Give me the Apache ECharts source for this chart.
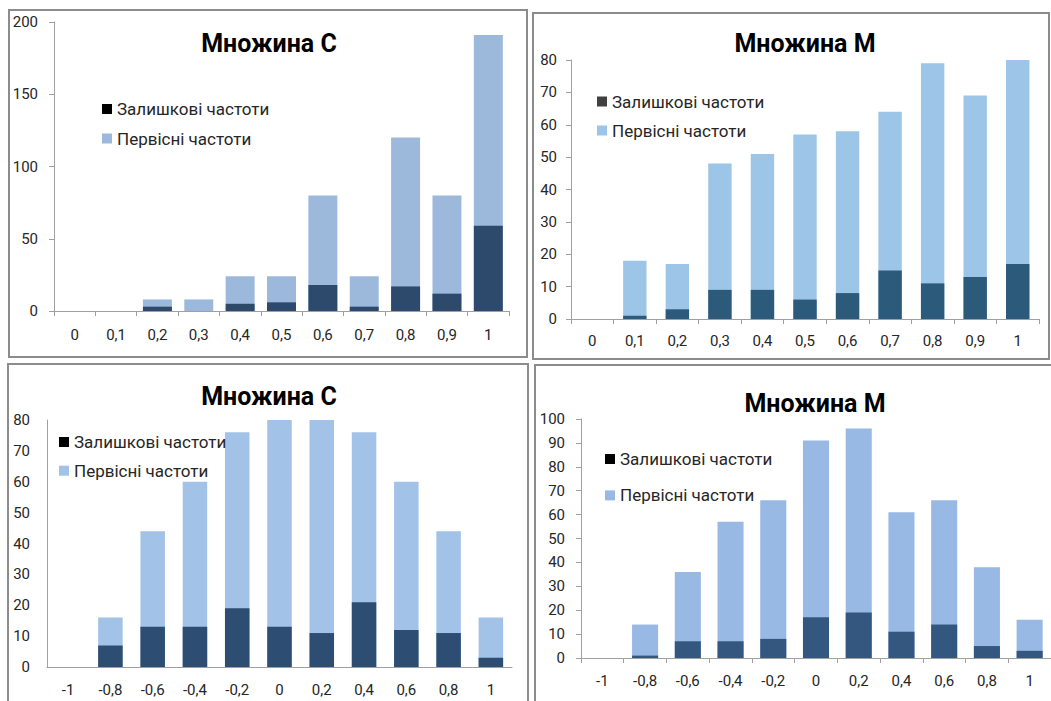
<!DOCTYPE html>
<html>
<head>
<meta charset="utf-8">
<script src="https://cdn.jsdelivr.net/npm/echarts@6/dist/echarts.min.js"></script>
<style>
html,body{margin:0;padding:0;background:#fff;width:1051px;height:701px;overflow:hidden;}
.box{position:absolute;border:2px solid #8c8c8c;box-sizing:border-box;background:#fff;}
#chart{position:absolute;left:0;top:0;width:1051px;height:701px;}
</style>
</head>
<body>
<div class="box" style="left:8px;top:9px;width:520px;height:349px"></div>
<div class="box" style="left:532px;top:12px;width:518px;height:348px"></div>
<div class="box" style="left:7px;top:363px;width:522px;height:345px"></div>
<div class="box" style="left:534px;top:364px;width:525px;height:345px"></div>
<div id="chart"></div>
<script>
// ---- data ----
const catsPos = ['0', '0,1', '0,2', '0,3', '0,4', '0,5', '0,6', '0,7', '0,8', '0,9', '1'];
const catsSym = ['-1', '-0,8', '-0,6', '-0,4', '-0,2', '0', '0,2', '0,4', '0,6', '0,8', '1'];
const nameResidual = 'Залишкові частоти';
const nameInitial = 'Первісні частоти';
const titleC = 'Множина C';
const titleM = 'Множина M';

// top-left: Множина C
const c1Initial  = [0, 0, 8, 8, 24, 24, 80, 24, 120, 80, 191];
const c1Residual = [0, 0, 3, 0, 5, 6, 18, 3, 17, 12, 59];
// top-right: Множина M
const m1Initial  = [0, 18, 17, 48, 51, 57, 58, 64, 79, 69, 80];
const m1Residual = [0, 1, 3, 9, 9, 6, 8, 15, 11, 13, 17];
// bottom-left: Множина C
const c2Initial  = [0, 16, 44, 60, 76, 80, 80, 76, 60, 44, 16];
const c2Residual = [0, 7, 13, 13, 19, 13, 11, 21, 12, 11, 3];
// bottom-right: Множина M
const m2Initial  = [0, 14, 36, 57, 66, 91, 96, 61, 66, 38, 16];
const m2Residual = [0, 1, 7, 7, 8, 17, 19, 11, 14, 5, 3];

// ---- layout / style ----
const FONT = 'Roboto, "Liberation Sans", sans-serif';
const panels = [
  { title: titleC, cats: catsPos, init: c1Initial, res: c1Residual, max: 200, step: 50,
    grid: {left: 54, top: 22, width: 455, height: 289}, ticks: true,
    titleX: 269, titleY: 31, legendX: 102, legendY: 100, legendGap: 11.5,
    light: '#9cb8db', dark: '#2d4a6d', legendDark: '#000000', gap: '30%', xMargin: 16, yMargin: 16 },
  { title: titleM, cats: catsPos, init: m1Initial, res: m1Residual, max: 80, step: 10,
    grid: {left: 571, top: 60, width: 468, height: 259}, ticks: true,
    titleX: 805, titleY: 31, legendX: 597, legendY: 92.5, legendGap: 11,
    light: '#9dc5e7', dark: '#2c5a7b', legendDark: '#404040', gap: '45%', xMargin: 14, yMargin: 14 },
  { title: titleC, cats: catsSym, init: c2Initial, res: c2Residual, max: 80, step: 10,
    grid: {left: 47, top: 420, width: 465, height: 247}, ticks: false,
    titleX: 269, titleY: 384, legendX: 59, legendY: 433, legendGap: 10.7,
    light: '#a3c2e8', dark: '#2e4d73', legendDark: '#000000', gap: '42%', xMargin: 15, yMargin: 17 },
  { title: titleM, cats: catsSym, init: m2Initial, res: m2Residual, max: 100, step: 10,
    grid: {left: 581, top: 419, width: 472, height: 239}, ticks: true,
    titleX: 815, titleY: 391, legendX: 605, legendY: 450, legendGap: 18.4,
    light: '#98b9e3', dark: '#34577f', legendDark: '#000000', gap: '39%', xMargin: 15, yMargin: 16 }
];

const axisLine = {show: true, lineStyle: {color: '#a0a0a0', width: 1}};
const labelStyle = {color: '#262626', fontSize: 15, fontFamily: FONT};

const option = {
  animation: false,
  backgroundColor: 'transparent',
  title: [], legend: [], grid: [], xAxis: [], yAxis: [], series: []
};

panels.forEach((p, i) => {
  option.grid.push(Object.assign({containLabel: false}, p.grid));
  option.title.push({
    text: p.title, left: p.titleX, top: p.titleY, textAlign: 'center', padding: 0,
    textStyle: {fontFamily: FONT, fontWeight: 'bold', fontSize: 25, color: '#000'}
  });
  option.legend.push({
    orient: 'vertical', left: p.legendX, top: p.legendY, padding: 0,
    itemWidth: 10, itemHeight: 10, itemGap: p.legendGap, selectedMode: false,
    textStyle: {fontFamily: FONT, fontSize: 17, lineHeight: 18, color: '#262626'},
    data: [
      {name: nameResidual, icon: 'rect', itemStyle: {color: p.legendDark}},
      {name: nameInitial, icon: 'rect', itemStyle: {color: p.light}}
    ]
  });
  option.xAxis.push({
    type: 'category', gridIndex: i, data: p.cats, boundaryGap: true,
    axisLine: axisLine,
    axisTick: {show: p.ticks, length: 5, lineStyle: {color: '#a0a0a0'}},
    axisLabel: Object.assign({margin: p.xMargin, interval: 0}, labelStyle),
    splitLine: {show: false}
  });
  option.yAxis.push({
    type: 'value', gridIndex: i, min: 0, max: p.max, interval: p.step,
    axisLine: axisLine,
    axisTick: {show: p.ticks, length: 5, lineStyle: {color: '#a0a0a0'}},
    axisLabel: Object.assign({margin: p.yMargin}, labelStyle),
    splitLine: {show: false}
  });
  option.series.push({
    type: 'bar', name: nameInitial, xAxisIndex: i, yAxisIndex: i, data: p.init,
    barCategoryGap: p.gap, barGap: '-100%',
    itemStyle: {color: p.light}
  });
  option.series.push({
    type: 'bar', name: nameResidual, xAxisIndex: i, yAxisIndex: i, data: p.res,
    barCategoryGap: p.gap, barGap: '-100%',
    itemStyle: {color: p.dark}
  });
});

const chart = echarts.init(document.getElementById('chart'), null, {renderer: 'svg', width: 1051, height: 701});
chart.setOption(option);
</script>
</body>
</html>
